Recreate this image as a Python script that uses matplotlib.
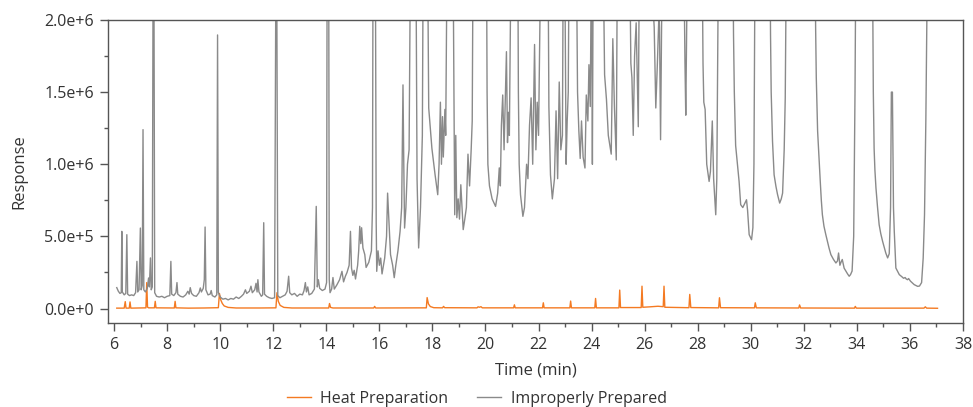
import math
import matplotlib
matplotlib.use("Agg")
import matplotlib.pyplot as plt
from matplotlib.ticker import MultipleLocator, FuncFormatter

# ---- data (time in min, response in thousands) ----
series_names = ["Heat Preparation", "Improperly Prepared"]
series_colors = ["#f47a22", "#8a8a8a"]

heat_trace = [
    (6.10, 3), (6.38, 3), (6.42, 48), (6.45, 3), (6.57, 3), (6.60, 46), (6.63, 3),
    (7.20, 5), (7.23, 180), (7.26, 10), (7.30, 5), (7.52, 5), (7.55, 50), (7.58, 5),
    (8.27, 4), (8.30, 50), (8.33, 5), (8.80, 3), (9.40, 4), (9.93, 6), (9.97, 105),
    (10.02, 60), (10.08, 35), (10.15, 18), (10.30, 8), (10.60, 4), (11.50, 4),
    (12.10, 5), (12.14, 110), (12.19, 50), (12.26, 22), (12.40, 8), (12.70, 4),
    (14.09, 4), (14.12, 35), (14.16, 8), (14.25, 4), (15.79, 4), (15.82, 15),
    (15.86, 4), (17.77, 5), (17.80, 76), (17.85, 32), (17.92, 14), (18.05, 6),
    (18.38, 5), (18.42, 15), (18.46, 6), (19.68, 5), (19.72, 12), (19.77, 9),
    (19.83, 13), (19.88, 5), (21.06, 5), (21.09, 26), (21.12, 5), (22.15, 5),
    (22.18, 40), (22.21, 5), (23.18, 5), (23.21, 52), (23.24, 5), (24.12, 5),
    (24.15, 70), (24.18, 5), (25.03, 5), (25.06, 128), (25.09, 7), (25.87, 7),
    (25.90, 155), (25.93, 9), (26.20, 12), (26.50, 16), (26.70, 13), (26.73, 155),
    (26.76, 9), (27.67, 6), (27.70, 98), (27.74, 7), (28.79, 5), (28.82, 75),
    (28.86, 6), (30.14, 5), (30.17, 40), (30.21, 5), (31.81, 4), (31.84, 25),
    (31.88, 4), (33.91, 3), (33.94, 15), (33.98, 3), (36.53, 3), (36.58, 12),
    (36.63, 3), (37.04, 2),
]

improper_trace = [
    (6.10, 145), (6.16, 120), (6.22, 105), (6.27, 110), (6.29, 535), (6.31, 115),
    (6.38, 95), (6.44, 105), (6.48, 512), (6.51, 100), (6.58, 90), (6.66, 95),
    (6.74, 90), (6.81, 110), (6.86, 327), (6.89, 115), (6.94, 130), (6.99, 558),
    (7.02, 130), (7.06, 160), (7.09, 1240), (7.12, 130), (7.18, 115), (7.25, 140),
    (7.30, 212), (7.33, 150), (7.37, 351), (7.40, 130), (7.44, 150), (7.47, 2400),
    (7.48, 3000), (7.50, 2400), (7.53, 110), (7.60, 85), (7.70, 80), (7.80, 85),
    (7.90, 75), (8.00, 85), (8.10, 90), (8.14, 327), (8.17, 100), (8.25, 90),
    (8.33, 110), (8.37, 180), (8.40, 100), (8.50, 85), (8.60, 80), (8.70, 95),
    (8.78, 120), (8.83, 100), (8.87, 145), (8.92, 105), (9.00, 90), (9.10, 85),
    (9.20, 110), (9.25, 143), (9.29, 115), (9.36, 140), (9.40, 200), (9.43, 565),
    (9.46, 130), (9.54, 95), (9.62, 100), (9.66, 125), (9.70, 90), (9.80, 80),
    (9.87, 95), (9.90, 1896), (9.93, 110), (10.00, 80), (10.10, 65), (10.20, 70),
    (10.30, 60), (10.40, 70), (10.50, 65), (10.60, 80), (10.70, 70), (10.80, 85),
    (10.88, 100), (10.95, 130), (11.00, 105), (11.10, 120), (11.16, 155),
    (11.21, 110), (11.30, 130), (11.35, 175), (11.39, 115), (11.42, 200),
    (11.46, 115), (11.55, 85), (11.60, 95), (11.64, 595), (11.67, 100),
    (11.75, 85), (11.85, 75), (11.95, 70), (12.05, 75), (12.10, 2400),
    (12.11, 3000), (12.13, 2400), (12.17, 90), (12.25, 75), (12.35, 85),
    (12.45, 95), (12.52, 120), (12.58, 224), (12.62, 110), (12.70, 95),
    (12.80, 105), (12.90, 85), (13.00, 100), (13.10, 95), (13.16, 125),
    (13.21, 180), (13.25, 115), (13.30, 150), (13.35, 95), (13.45, 105),
    (13.55, 135), (13.62, 708), (13.66, 150), (13.70, 200), (13.75, 140),
    (13.85, 125), (13.95, 135), (14.01, 180), (14.03, 2400), (14.06, 3000),
    (14.09, 2400), (14.11, 200), (14.14, 110), (14.20, 135), (14.25, 215),
    (14.30, 135), (14.40, 165), (14.50, 200), (14.59, 258), (14.65, 185),
    (14.72, 225), (14.78, 250), (14.86, 300), (14.91, 535), (14.95, 280),
    (15.00, 230), (15.05, 265), (15.10, 205), (15.18, 300), (15.22, 400),
    (15.26, 570), (15.30, 450), (15.33, 560), (15.38, 420), (15.45, 374),
    (15.50, 285), (15.60, 320), (15.70, 400), (15.74, 700), (15.76, 2400),
    (15.80, 3000), (15.85, 2400), (15.88, 600), (15.90, 258), (15.95, 400),
    (16.00, 300), (16.05, 350), (16.10, 240), (16.20, 350), (16.27, 500),
    (16.31, 800), (16.36, 600), (16.42, 374), (16.50, 300), (16.56, 214),
    (16.62, 300), (16.70, 400), (16.78, 535), (16.84, 700), (16.89, 1550),
    (16.92, 1000), (16.95, 558), (17.00, 700), (17.06, 1000), (17.12, 1100),
    (17.17, 2400), (17.27, 3500), (17.38, 2400), (17.42, 900), (17.48, 420),
    (17.55, 700), (17.62, 1200), (17.65, 2400), (17.74, 3500), (17.82, 2400),
    (17.86, 1390), (17.92, 1250), (17.98, 1110), (18.10, 927), (18.20, 789),
    (18.25, 1000), (18.30, 1430), (18.34, 1000), (18.38, 1330), (18.41, 1050),
    (18.47, 1380), (18.50, 1200), (18.55, 2400), (18.66, 3500), (18.78, 2400),
    (18.84, 650), (18.88, 1200), (18.92, 630), (18.97, 760), (19.02, 620),
    (19.07, 858), (19.16, 547), (19.22, 620), (19.28, 700), (19.34, 1070),
    (19.40, 850), (19.46, 1100), (19.50, 1300), (19.53, 2400), (19.78, 3800),
    (20.04, 2400), (20.06, 1500), (20.09, 1000), (20.15, 850), (20.25, 760),
    (20.38, 708), (20.46, 800), (20.52, 975), (20.56, 850), (20.60, 1270),
    (20.65, 1480), (20.70, 1100), (20.79, 1780), (20.83, 1150), (20.86, 1360),
    (20.90, 1200), (20.96, 2400), (21.09, 3500), (21.22, 2400), (21.24, 1500),
    (21.27, 1000), (21.32, 789), (21.41, 639), (21.47, 700), (21.55, 1000),
    (21.60, 900), (21.66, 1270), (21.72, 1460), (21.78, 1000), (21.85, 1830),
    (21.90, 1100), (21.95, 1430), (22.00, 1200), (22.08, 2400), (22.22, 3500),
    (22.36, 2400), (22.39, 1400), (22.45, 927), (22.52, 760), (22.60, 900),
    (22.66, 1370), (22.72, 900), (22.78, 1570), (22.84, 1100), (22.90, 1200),
    (22.93, 2400), (22.96, 3000), (22.99, 2400), (23.04, 1000), (23.08, 1300),
    (23.12, 1500), (23.15, 2400), (23.29, 3500), (23.43, 2400), (23.47, 1500),
    (23.52, 1230), (23.57, 1040), (23.62, 1300), (23.68, 1050), (23.75, 974),
    (23.80, 1480), (23.86, 1300), (23.90, 1690), (23.95, 1400), (23.99, 2400),
    (24.00, 2400), (24.03, 1000), (24.06, 2400), (24.25, 3500), (24.44, 2400),
    (24.49, 1620), (24.56, 1450), (24.63, 1200), (24.74, 1070), (24.80, 1870),
    (24.86, 1400), (24.93, 1030), (24.97, 2400), (25.20, 3500), (25.44, 2400),
    (25.48, 1700), (25.52, 1600), (25.57, 1200), (25.62, 1750), (25.68, 1980),
    (25.76, 1260), (25.80, 2400), (26.06, 3500), (26.33, 2050), (26.36, 1950),
    (26.42, 1390), (26.48, 1700), (26.54, 2050), (26.56, 1950), (26.60, 1170),
    (26.66, 2400), (27.07, 3500), (27.48, 2400), (27.52, 1700), (27.55, 1340),
    (27.61, 2400), (27.89, 3500), (28.17, 2400), (28.20, 1700), (28.23, 1430),
    (28.28, 1380), (28.34, 1000), (28.43, 881), (28.48, 950), (28.55, 1300),
    (28.60, 900), (28.68, 650), (28.72, 900), (28.78, 2400), (29.05, 3500),
    (29.33, 2400), (29.35, 1900), (29.38, 1500), (29.43, 1130), (29.50, 1000),
    (29.56, 881), (29.62, 720), (29.70, 700), (29.78, 730), (29.84, 754),
    (29.88, 680), (29.94, 512), (30.03, 477), (30.08, 560), (30.12, 1000),
    (30.16, 2400), (30.45, 3500), (30.73, 2400), (30.745, 1900), (30.77, 1500),
    (30.82, 1160), (30.88, 927), (30.95, 846), (31.01, 790), (31.09, 731),
    (31.15, 760), (31.20, 800), (31.26, 1100), (31.30, 1460), (31.34, 2400),
    (31.88, 3800), (32.43, 2400), (32.445, 1950), (32.47, 1600), (32.52, 1230),
    (32.57, 1050), (32.62, 881), (32.66, 750), (32.70, 650), (32.76, 570),
    (32.83, 512), (32.95, 420), (33.02, 374), (33.12, 340), (33.21, 316),
    (33.27, 330), (33.31, 385), (33.36, 300), (33.40, 320), (33.45, 340),
    (33.52, 280), (33.59, 258), (33.65, 240), (33.71, 224), (33.76, 235),
    (33.82, 260), (33.88, 500), (33.93, 1500), (33.96, 2400), (34.28, 3800),
    (34.59, 2400), (34.605, 1900), (34.62, 1500), (34.65, 1110), (34.68, 960),
    (34.72, 835), (34.78, 700), (34.84, 581), (34.90, 520), (34.97, 466),
    (35.09, 385), (35.16, 351), (35.22, 380), (35.27, 700), (35.30, 1500),
    (35.34, 1500), (35.38, 700), (35.41, 535), (35.47, 281), (35.60, 235),
    (35.70, 220), (35.76, 210), (35.82, 215), (35.86, 205), (35.91, 200),
    (35.95, 208), (36.02, 190), (36.16, 166), (36.29, 154), (36.36, 156),
    (36.44, 180), (36.50, 350), (36.55, 650), (36.60, 1300), (36.66, 2400),
    (36.70, 3000),
]

x_ticks = list(range(6, 39, 2))
y_ticks = [0, 500000, 1000000, 1500000, 2000000]

plt.rcParams['font.family'] = ['Open Sans', 'DejaVu Sans']

fig = plt.figure(figsize=(9.73, 4.07), dpi=100)
ax = fig.add_axes([0.111, 0.2064, 0.8787, 0.7446])

for trace, name, color in zip([heat_trace, improper_trace], series_names, series_colors):
    t = [p[0] for p in trace]
    v = [p[1] * 1000 for p in trace]
    ax.plot(t, v, color=color, lw=1.0, label=name)

ax.set_xlim(5.77, 38.0)
ax.set_ylim(-1.0e5, 2.0e6)
ax.set_xticks(x_ticks)
ax.set_yticks(y_ticks)
ax.xaxis.set_minor_locator(MultipleLocator(1))
ax.yaxis.set_minor_locator(MultipleLocator(250000))


def sci_fmt(v, pos):
    if v == 0:
        return "0.0e+0"
    e = int(math.floor(math.log10(abs(v))))
    m = v / 10 ** e
    return f"{m:.1f}e+{e}"


ax.yaxis.set_major_formatter(FuncFormatter(sci_fmt))

spine_col = "#555555"
for s in ax.spines.values():
    s.set_color(spine_col)
    s.set_linewidth(1.0)
ax.tick_params(which='major', direction='out', length=6, width=1, color=spine_col,
               labelsize=11.5, labelcolor='#333333', pad=4)
ax.tick_params(which='minor', direction='out', length=3, width=1, color=spine_col)

ax.set_xlabel("Time (min)", fontsize=12, color='#333333', labelpad=7)
ax.set_ylabel("Response", fontsize=12, color='#333333', labelpad=12)

leg = fig.legend(loc='lower center', bbox_to_anchor=(0.49, -0.035), ncol=2,
                 frameon=False, fontsize=11.5, handlelength=1.5, columnspacing=1.8,
                 handletextpad=0.6)
for txt in leg.get_texts():
    txt.set_color('#333333')

fig.savefig("out.png", dpi=100)
